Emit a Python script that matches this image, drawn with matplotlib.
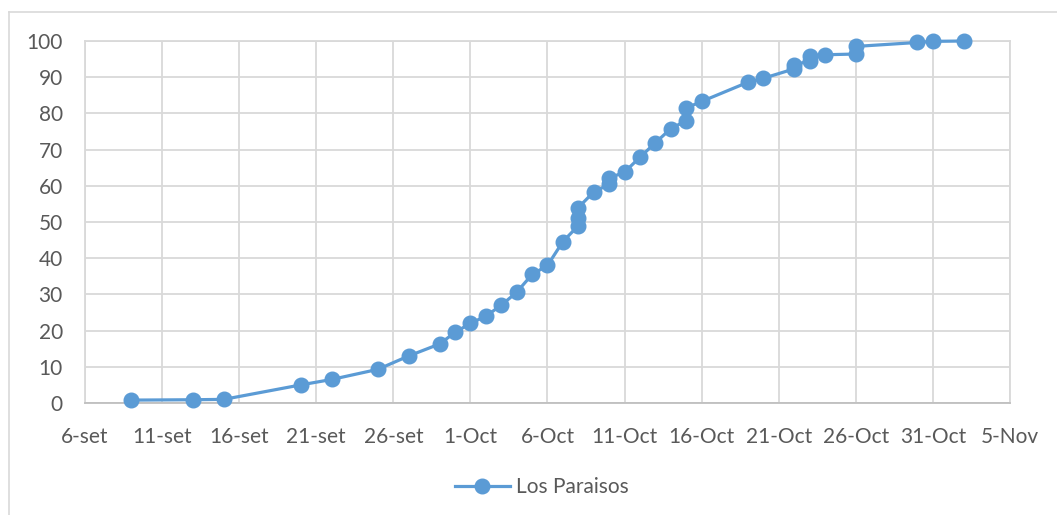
import matplotlib
matplotlib.use("Agg")
import matplotlib.pyplot as plt
import matplotlib.dates as mdates
from matplotlib.lines import Line2D
import numpy as np
import datetime as dt

# ---- data ----
dates = ["2019-09-09", "2019-09-13", "2019-09-15", "2019-09-20", "2019-09-22",
         "2019-09-25", "2019-09-27", "2019-09-29", "2019-09-30", "2019-10-01",
         "2019-10-02", "2019-10-03", "2019-10-04", "2019-10-05", "2019-10-06",
         "2019-10-07", "2019-10-08", "2019-10-08", "2019-10-08", "2019-10-09",
         "2019-10-10", "2019-10-10", "2019-10-11", "2019-10-12", "2019-10-13",
         "2019-10-14", "2019-10-15", "2019-10-15", "2019-10-16", "2019-10-19",
         "2019-10-20", "2019-10-22", "2019-10-22", "2019-10-23", "2019-10-23",
         "2019-10-24", "2019-10-26", "2019-10-26", "2019-10-30", "2019-10-31",
         "2019-11-02"]
values = [0.8, 0.9, 1.0, 5.0, 6.5,
          9.3, 13.0, 16.3, 19.5, 22.0,
          24.0, 27.0, 30.6, 35.5, 38.0,
          44.6, 49.0, 51.2, 54.0, 58.3,
          60.4, 62.1, 63.8, 67.9, 71.9,
          75.8, 78.0, 81.5, 83.3, 88.6,
          89.7, 92.3, 93.4, 94.5, 95.9,
          96.2, 96.4, 98.5, 99.6, 99.9,
          100.0]
series_name = "Los Paraisos"
tick_dates = ["2019-09-06", "2019-09-11", "2019-09-16", "2019-09-21", "2019-09-26",
              "2019-10-01", "2019-10-06", "2019-10-11", "2019-10-16", "2019-10-21",
              "2019-10-26", "2019-10-31", "2019-11-05"]
tick_labels = ["6-set", "11-set", "16-set", "21-set", "26-set", "1-Oct", "6-Oct",
               "11-Oct", "16-Oct", "21-Oct", "26-Oct", "31-Oct", "5-Nov"]
y_ticks = [0, 10, 20, 30, 40, 50, 60, 70, 80, 90, 100]

# ---- style ----
plt.rcParams['font.family'] = ['Lato', 'DejaVu Sans']
line_color = "#5b9bd5"
text_color = "#595959"
grid_color = "#d9d9d9"
fs = 15

W, H = 1057, 515
fig = plt.figure(figsize=(W / 100, H / 100), dpi=100)
ax = fig.add_axes([85 / W, 1 - 403 / H, (1010 - 85) / W, (403 - 41) / H])

x = [mdates.date2num(dt.datetime.strptime(d, "%Y-%m-%d")) for d in dates]
xt = [mdates.date2num(dt.datetime.strptime(d, "%Y-%m-%d")) for d in tick_dates]

ax.plot(x, values, color=line_color, lw=2.3, marker='o', ms=10.5,
        markerfacecolor=line_color, markeredgecolor=line_color, zorder=3,
        clip_on=False, solid_capstyle='round')

ax.set_xlim(xt[0], xt[-1])
ax.set_ylim(0, 100)
ax.set_xticks(xt)
ax.set_xticklabels(tick_labels)
ax.set_yticks(y_ticks)
ax.set_yticklabels([str(v) for v in y_ticks])
ax.grid(True, color=grid_color, lw=1.3, zorder=0)
ax.set_axisbelow(True)
for s in ['top', 'right', 'left']:
    ax.spines[s].set_color(grid_color)
    ax.spines[s].set_linewidth(1.3)
ax.spines['bottom'].set_color("#bfbfbf")
ax.spines['bottom'].set_linewidth(1.3)
ax.tick_params(axis='both', length=0, labelsize=fs, colors=text_color)
ax.tick_params(axis='y', pad=16)
ax.tick_params(axis='x', pad=17)

handle = Line2D([0], [0], color=line_color, lw=2.3, marker='o', ms=10.5)
fig.legend([handle], [series_name], loc='center', bbox_to_anchor=(542 / W, 1 - 487 / H),
           frameon=False, fontsize=fs, labelcolor=text_color, handlelength=2.6,
           handletextpad=0.3)

# chart-area border
fig.add_artist(Line2D([8.5 / W, 8.5 / W], [0, 1 - 12 / H], color=grid_color, lw=1.2,
                      transform=fig.transFigure))
fig.add_artist(Line2D([8.5 / W, 1], [1 - 12 / H, 1 - 12 / H], color=grid_color, lw=1.2,
                      transform=fig.transFigure))

fig.savefig("out.png", dpi=100)
